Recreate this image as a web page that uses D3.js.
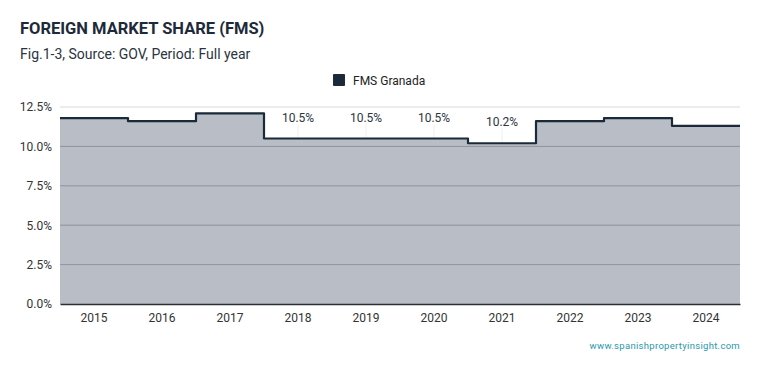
<!DOCTYPE html>
<html>
<head>
<meta charset="utf-8">
<script src="https://cdn.jsdelivr.net/npm/d3@7"></script>
<style>
  body { margin: 0; background: #fff; font-family: Roboto, sans-serif; }
</style>
</head>
<body>
<svg id="chart" width="759" height="371"></svg>
<script>
var years = ["2015","2016","2017","2018","2019","2020","2021","2022","2023","2024"];
var fms = [11.8, 11.6, 12.1, 10.5, 10.5, 10.5, 10.2, 11.6, 11.8, 11.3];
var yTicks = [0, 2.5, 5, 7.5, 10, 12.5];
var labelYears = ["2018","2019","2020","2021"];

var margin = {top: 107, right: 19, bottom: 67, left: 60},
    width = 759 - margin.left - margin.right,
    height = 371 - margin.top - margin.bottom;

var svg = d3.select("#chart");

// title
svg.append("text")
    .attr("x", 20).attr("y", 34)
    .text("FOREIGN MARKET SHARE (FMS)")
    .attr("font-size", "16.5px")
    .attr("font-weight", "bold")
    .attr("fill", "#1c2a3a");

svg.append("text")
    .attr("x", 20).attr("y", 59)
    .text("Fig.1-3, Source: GOV, Period: Full year")
    .attr("font-size", "14px")
    .attr("fill", "#2b3440");

// legend
svg.append("rect")
    .attr("x", 333).attr("y", 74)
    .attr("width", 12).attr("height", 12)
    .attr("rx", 1)
    .attr("fill", "#1b2b3b");
svg.append("text")
    .attr("x", 353).attr("y", 84.5)
    .text("FMS Granada")
    .attr("font-size", "12px")
    .attr("fill", "#222");

var g = svg.append("g")
    .attr("transform", "translate(" + margin.left + "," + margin.top + ")");

var x = d3.scaleBand().domain(years).range([0, width]);
var y = d3.scaleLinear().domain([0, 12.5]).range([height, 0]);

// step points: each year spans its whole band
var pts = [];
years.forEach(function(yr, i) {
    pts.push([x(yr), fms[i]]);
});
pts.push([width, fms[fms.length - 1]]);

var area = d3.area()
    .x(function(d) { return d[0]; })
    .y0(height)
    .y1(function(d) { return y(d[1]); })
    .curve(d3.curveStepAfter);

var line = d3.line()
    .x(function(d) { return d[0]; })
    .y(function(d) { return y(d[1]); })
    .curve(d3.curveStepAfter);

g.append("path")
    .datum(pts)
    .attr("d", area)
    .attr("fill", "#b9bdc6");

// gridlines
g.selectAll(".grid")
    .data(yTicks.filter(function(t) { return t > 0; }))
    .enter().append("line")
    .attr("x1", 0).attr("x2", width)
    .attr("y1", function(d) { return y(d); })
    .attr("y2", function(d) { return y(d); })
    .attr("stroke", function(d) { return d == 12.5 ? "#d9d9d9" : "#8f939b"; })
    .attr("stroke-width", 1);

// y axis
var yAxis = g.append("g")
    .call(d3.axisLeft(y).tickValues(yTicks).tickSize(0).tickPadding(8)
        .tickFormat(function(d) { return d3.format(".1f")(d) + "%"; }));
yAxis.select(".domain").remove();
yAxis.selectAll("text")
    .attr("font-family", "Roboto, sans-serif")
    .attr("font-size", "12px")
    .attr("fill", "#333");

// x axis
var xAxis = g.append("g")
    .attr("transform", "translate(0," + height + ")")
    .call(d3.axisBottom(x).tickSize(0).tickPadding(9));
xAxis.select(".domain").attr("stroke", "#2a2f36").attr("stroke-width", 1.3);
xAxis.selectAll("text")
    .attr("font-family", "Roboto, sans-serif")
    .attr("font-size", "12px")
    .attr("fill", "#333");

// value labels
var lab = years.map(function(yr, i) { return {year: yr, v: fms[i]}; })
    .filter(function(d) { return labelYears.indexOf(d.year) >= 0; });

g.selectAll(".lbltick")
    .data(lab)
    .enter().append("line")
    .attr("x1", function(d) { return x(d.year) + x.bandwidth() / 2; })
    .attr("x2", function(d) { return x(d.year) + x.bandwidth() / 2; })
    .attr("y1", function(d) { return y(d.v) - 15; })
    .attr("y2", function(d) { return y(d.v); })
    .attr("stroke", "#f0f0f0")
    .attr("stroke-width", 1);

g.selectAll(".lbl")
    .data(lab)
    .enter().append("text")
    .attr("x", function(d) { return x(d.year) + x.bandwidth() / 2; })
    .attr("y", function(d) { return y(d.v) - 17; })
    .attr("text-anchor", "middle")
    .attr("font-size", "12px")
    .attr("fill", "#2b3440")
    .text(function(d) { return d3.format(".1f")(d.v) + "%"; });

g.append("path")
    .datum(pts)
    .attr("d", line)
    .attr("fill", "none")
    .attr("stroke", "#1b2a38")
    .attr("stroke-width", 2.2)
    .attr("stroke-linejoin", "round");

// watermark
svg.append("text")
    .attr("x", 740).attr("y", 349)
    .attr("text-anchor", "end")
    .attr("font-size", "9.5px")
    .attr("letter-spacing", "0.3px")
    .attr("fill", "#2a98ad")
    .text("www.spanishpropertyinsight.com");
</script>
</body>
</html>
